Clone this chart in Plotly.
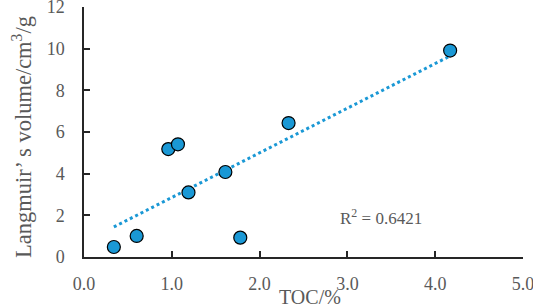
import numpy as np
import plotly.graph_objects as go

toc = [0.34, 0.60, 0.96, 1.07, 1.19, 1.61, 1.78, 2.33, 4.17]
vl = [0.48, 1.01, 5.18, 5.41, 3.10, 4.08, 0.93, 6.43, 9.91]
r2_label = "R<sup>2</sup> = 0.6421"
x_title = "TOC/%"
y_title = "Langmuir’ s volume/cm<sup>3</sup>/g"

x = np.array(toc)
y = np.array(vl)
k, b = np.polyfit(x, y, 1)
xl = [x.min(), x.max()]
yl = [k * v + b for v in xl]

font = "Liberation Serif, Times New Roman, serif"
gray = "#595959"
blue = "#1a98d5"
axc = "#262626"

W, H = 533, 308
L, R, T, B = 84, 10, 7, 51
pw, ph = W - L - R, H - T - B

fig = go.Figure()
fig.add_trace(go.Scatter(x=xl, y=yl, mode="lines",
                         line=dict(color=blue, width=3, dash="dot"),
                         hoverinfo="skip", showlegend=False, cliponaxis=False))
fig.add_trace(go.Scatter(x=toc, y=vl, mode="markers",
                         marker=dict(size=13, color=blue, line=dict(color="black", width=1.2)),
                         showlegend=False, cliponaxis=False))
fig.add_annotation(x=3.38, y=1.93, xref="x", yref="y", text=r2_label, showarrow=False,
                   xanchor="center", yanchor="middle",
                   font=dict(family=font, size=17, color=gray))
fig.add_annotation(x=(310 - L) / pw, y=(H - B - 297) / ph, xref="paper", yref="paper",
                   text=x_title, showarrow=False, xanchor="center", yanchor="middle",
                   font=dict(family=font, size=20, color=gray))
fig.add_annotation(x=(22 - L) / pw, y=(H - B - 137) / ph, xref="paper", yref="paper",
                   text=y_title, showarrow=False, xanchor="center", yanchor="middle",
                   textangle=-90, font=dict(family=font, size=22.5, color=gray))

fig.update_layout(
    width=W, height=H,
    margin=dict(l=L, r=R, t=T, b=B),
    plot_bgcolor="white", paper_bgcolor="white",
    font=dict(family=font, color=gray),
)
fig.update_xaxes(range=[0, 5], dtick=1, tickformat=".1f", automargin=False,
                 showline=True, linecolor=axc, linewidth=1.5,
                 ticks="inside", ticklen=6, tickcolor=axc, tickwidth=1.5,
                 showgrid=False, zeroline=False, ticklabelstandoff=10,
                 ticklabeloverflow="allow",
                 tickfont=dict(family=font, size=18, color=gray))
fig.update_yaxes(range=[0, 12], dtick=2, automargin=False,
                 showline=True, linecolor=axc, linewidth=1.5,
                 ticks="inside", ticklen=6, tickcolor=axc, tickwidth=1.5,
                 showgrid=False, zeroline=False, ticklabelstandoff=14,
                 ticklabeloverflow="allow",
                 tickfont=dict(family=font, size=18, color=gray))

fig.write_html("out.html", config={"displayModeBar": False},
               post_script="document.body.style.margin='0';document.body.style.overflow='hidden';")
